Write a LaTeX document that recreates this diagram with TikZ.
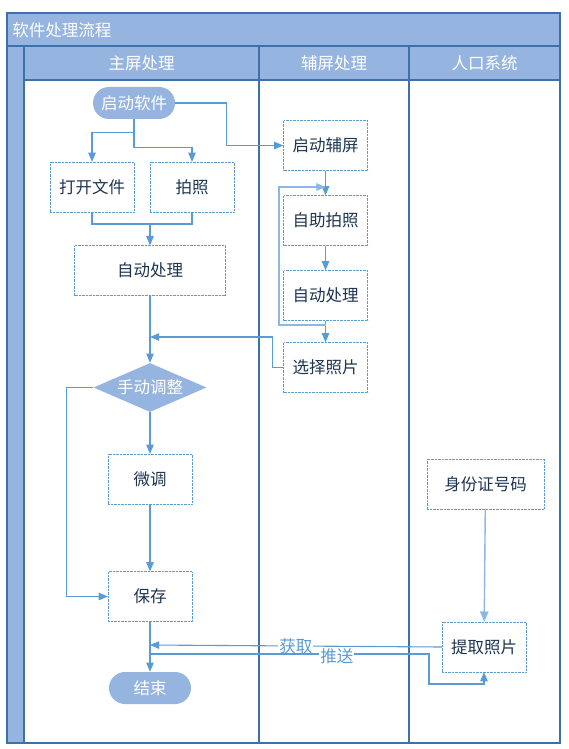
\documentclass[tikz,border=0pt]{standalone}
\usepackage{fontspec}
\setmainfont{Noto Sans CJK SC}
\usetikzlibrary{arrows,shapes}
\definecolor{laneblue}{HTML}{95B5E0}
\definecolor{lanedark}{HTML}{3E70A9}
\definecolor{flowblue}{HTML}{5B9BD5}
\definecolor{flowlight}{HTML}{8DB8E4}
\definecolor{textnavy}{HTML}{1E3552}
\newcommand{\lanefont}{\fontsize{16.5}{19}\selectfont}

\begin{document}
\begin{tikzpicture}[x=1pt,y=-1pt,->,>=triangle 45,semithick]
  \tikzstyle{lane}=[draw=lanedark,line width=1.3pt,fill=white]
  \tikzstyle{head}=[lane,fill=laneblue]
  \tikzstyle{headtext}=[text=white,font=\lanefont]
  \tikzstyle{box}=[draw=flowblue,densely dotted,thin,fill=white,text=textnavy,minimum width=84pt,minimum height=50pt,font=\lanefont]
  \tikzstyle{term}=[fill=laneblue,rounded corners=16pt,text=white,minimum width=82pt,minimum height=32pt,font=\lanefont]
  \tikzstyle{decision}=[diamond,aspect=2.3,inner sep=0pt,fill=laneblue,text=white,minimum width=113pt,minimum height=49pt,font=\lanefont]
  \tikzstyle{flow}=[draw=flowblue,line width=1.1pt]

  \useasboundingbox (0,0) rectangle (568,749);

  % pool and lanes
  \draw[head,-] (7,13) rectangle (560,46);
  \draw[head,-] (7,46) rectangle (24,743);
  \draw[head,-] (24,46) rectangle (259,80);
  \draw[head,-] (259,46) rectangle (409,80);
  \draw[head,-] (409,46) rectangle (560,80);
  \draw[lane,-] (24,80) rectangle (259,743);
  \draw[lane,-] (259,80) rectangle (409,743);
  \draw[lane,-] (409,80) rectangle (560,743);
  \node[headtext,anchor=west,inner sep=2pt] (title) at (10,30) {软件处理流程};
  \node[headtext] (mainlane) at (141.5,63) {主屏处理};
  \node[headtext] (auxlane)  at (334,63)   {辅屏处理};
  \node[headtext] (poplane)  at (484.5,63) {人口系统};

  % main screen
  \node[term]                   (start)    at (134,103)   {启动软件};
  \node[box]                    (open)     at (92,187)    {打开文件};
  \node[box]                    (shoot)    at (192,187)   {拍照};
  \node[box,minimum width=151pt](autoproc) at (150,270.5) {自动处理};
  \node[decision]               (adjust)   at (150,387.5) {手动调整};
  \node[box]                    (tune)     at (150,479)   {微调};
  \node[box]                    (save)     at (150,596.5) {保存};
  \node[term]                   (stop)     at (150,688)   {结束};

  % aux screen
  \node[box] (auxstart)  at (325.5,145.5) {启动辅屏};
  \node[box] (selfshoot) at (325.5,220.5) {自助拍照};
  \node[box] (auxproc)   at (325.5,295.5) {自动处理};
  \node[box] (pick)      at (325.5,367.5) {选择照片};

  % population system
  \node[box,minimum width=117pt] (idnum) at (485.5,484) {身份证号码};
  \node[box]                     (fetch) at (484,647)   {提取照片};

  \coordinate (join)    at (150,224);
  \coordinate (pickin)  at (150,337);
  \coordinate (loopout) at (325.5,325);
  \coordinate (loopin)  at (325.5,187);
  \coordinate (getin)   at (150,645);
  \coordinate (pushout) at (150,654);

  \draw[flow] (start.south) -- ++(0,13) -| (open.north);
  \draw[flow] (start.south) -- ++(0,28) -| (shoot.north);
  \draw[flow] (start.east) -- ++(51,0) |- (auxstart.west);
  \draw[flow,-] (open.south) |- (join) -| (shoot.south);
  \draw[flow] (join) -- (autoproc.north);
  \draw[flow] (autoproc) -- (adjust);
  \draw[flow] (adjust) -- (tune);
  \draw[flow] (tune) -- (save);
  \draw[flow] (adjust.west) -- ++(-27,0) |- (save.west);
  \draw[flow] (save) -- (stop);

  \draw[flow] (auxstart) -- (selfshoot);
  \draw[flow] (selfshoot) -- (auxproc);
  \draw[flow] (auxproc) -- (pick);
  \draw[flow,draw=flowlight] (loopout) -- ++(-46.5,0) |- (loopin);
  \draw[flow] (pick.west) -- ++(-11,0) |- (pickin);

  \draw[flow,draw=flowlight,line width=1.4pt] (idnum) -- (fetch);
  \draw[flow] (fetch.west) -- node[fill=white,inner sep=1pt,text=flowblue,font=\lanefont,pos=0.5] (getlabel) {获取} (getin);
  \draw[flow] (pushout) -- node[fill=white,inner sep=1pt,text=flowblue,font=\lanefont,pos=0.67,yshift=-2pt] (pushlabel) {推送} ++(279,0) -- ++(0,30) -| (fetch.south);
\end{tikzpicture}
\end{document}
